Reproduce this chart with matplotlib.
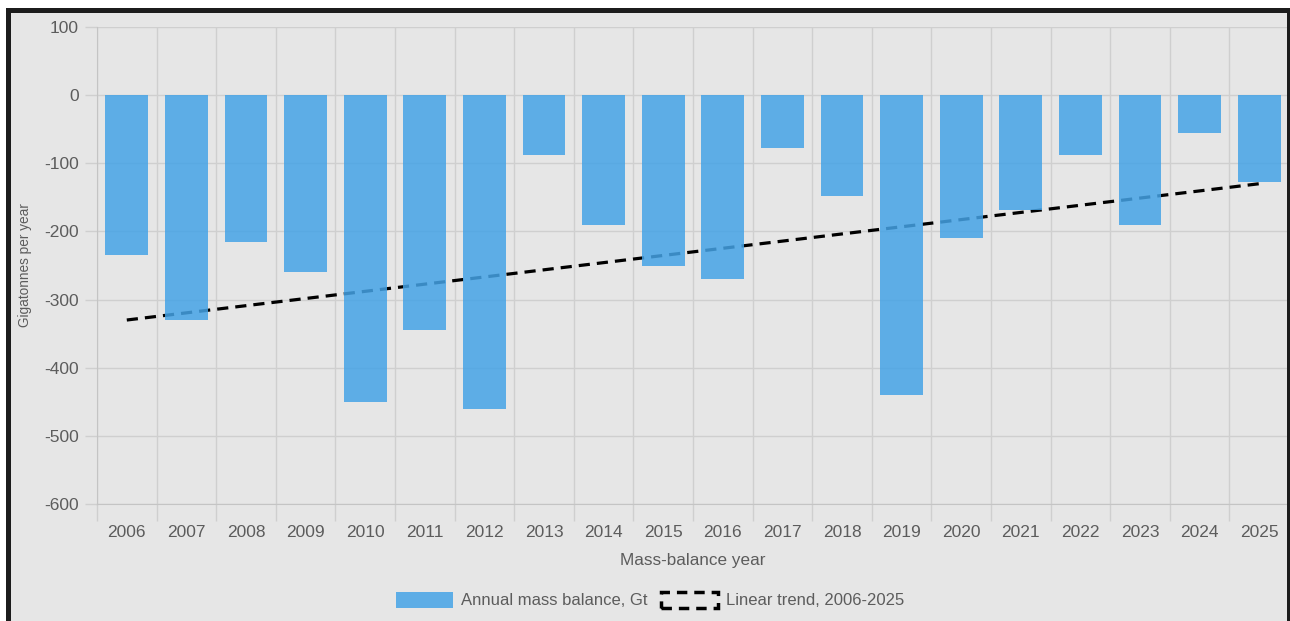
import matplotlib
matplotlib.use("Agg")
from matplotlib import pyplot as plt
import matplotlib.patches as patches
import numpy

plt.rcParams['font.family'] = ['Liberation Sans', 'DejaVu Sans']

years = ['2006', '2007', '2008', '2009', '2010', '2011', '2012', '2013', '2014', '2015',
         '2016', '2017', '2018', '2019', '2020', '2021', '2022', '2023', '2024', '2025']
mass_balance = [-235, -330, -215, -260, -450, -345, -460, -88, -190, -250,
                -270, -78, -148, -440, -210, -168, -88, -190, -55, -128]
trend_years = ['2006', '2025']
trend_values = [-330, -130]
y_ticks = [100, 0, -100, -200, -300, -400, -500, -600]

bg = '#e6e6e6'
bar_color = '#45a3e6'
text_color = '#5c5c5c'
grid_color = '#cfcfcf'

fig = plt.figure(figsize=(12.9, 6.21), dpi=100, facecolor=bg)
ax = fig.add_axes([97 / 1290, 1 - 504 / 621, 1192 / 1290, 477 / 621])
ax.set_facecolor(bg)

x = numpy.arange(len(years))
trend_x = [years.index(y) for y in trend_years]

# trend under the bars, bars slightly see-through like the original
ax.plot(trend_x, trend_values, color='black', linewidth=2.3, linestyle=(0, (3.5, 2.2)), zorder=2)
ax.bar(x, mass_balance, width=0.72, color=bar_color, alpha=0.85, zorder=3)

ax.set_xlim(-0.5, len(years) - 0.5)
ax.set_ylim(-600, 100)

# category gridlines on slot edges, labels in the middle
ax.set_xticks(numpy.arange(len(years) + 1) - 0.5)
ax.set_xticklabels([])
ax.set_xticks(x, minor=True)
ax.set_xticklabels(years, minor=True, fontsize=12.5, color=text_color)
ax.tick_params(axis='x', which='major', length=12, color=grid_color, width=1)
ax.tick_params(axis='x', which='minor', length=0, pad=15)

ax.set_yticks(y_ticks)
ax.set_yticklabels([str(v) for v in y_ticks], fontsize=12.5, color=text_color)
ax.tick_params(axis='y', length=9, color=grid_color, width=1, pad=4)

ax.grid(True, which='major', color=grid_color, linewidth=1, zorder=0)
ax.set_axisbelow(True)
for side in ['top', 'right']:
    ax.spines[side].set_visible(False)
for side in ['left', 'bottom']:
    ax.spines[side].set_color('#c4c4c4')

fig.text(693 / 1290, 1 - 561 / 621, 'Mass-balance year', ha='center', va='center',
         fontsize=12.3, color=text_color)
fig.text(25 / 1290, 1 - 265 / 621, 'Gigatonnes per year', ha='center', va='center',
         rotation=90, fontsize=9.8, color=text_color)

handles = [patches.Patch(facecolor=bar_color, alpha=0.85, edgecolor='none'),
           patches.Patch(facecolor='none', edgecolor='black', linestyle=(0, (3, 2)), linewidth=2.5)]
fig.legend(handles, ['Annual mass balance, Gt', 'Linear trend, 2006-2025'],
           loc='center', bbox_to_anchor=(0.504, 1 - 600 / 621), ncol=2, frameon=False,
           fontsize=12, labelcolor=text_color, handlelength=3.4, handleheight=1.15,
           handletextpad=0.5, columnspacing=0.8)

# dark screenshot frame
fig.patches.append(patches.Rectangle((0, 1 - 13 / 621), 1, 5 / 621, transform=fig.transFigure,
                                     facecolor='#1c1c1c', edgecolor='none', zorder=10))
fig.patches.append(patches.Rectangle((0, 1 - 8 / 621), 1, 8 / 621, transform=fig.transFigure,
                                     facecolor='white', edgecolor='none', zorder=10))
fig.patches.append(patches.Rectangle((0, 0), 6 / 1290, 1, transform=fig.transFigure,
                                     facecolor='white', edgecolor='none', zorder=10))
fig.patches.append(patches.Rectangle((6 / 1290, 0), 5 / 1290, 1 - 8 / 621, transform=fig.transFigure,
                                     facecolor='#1c1c1c', edgecolor='none', zorder=10))
fig.patches.append(patches.Rectangle((1287 / 1290, 0), 3 / 1290, 1 - 8 / 621, transform=fig.transFigure,
                                     facecolor='#1c1c1c', edgecolor='none', zorder=10))

fig.savefig('out.png', dpi=100, facecolor=bg)
